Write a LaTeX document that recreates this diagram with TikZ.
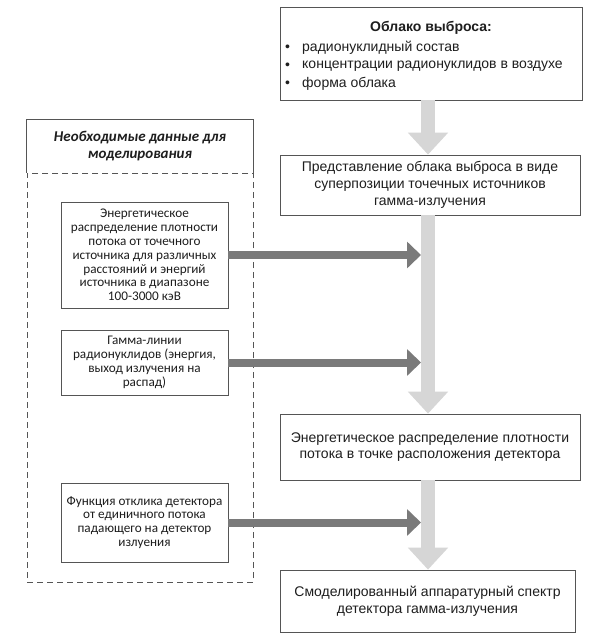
\documentclass[tikz,border=0pt]{standalone}
\usepackage{fontspec}
\setmainfont{Liberation Sans}
\newfontfamily\calib{Carlito}
\usetikzlibrary{arrows.meta}
\definecolor{lightarr}{HTML}{D6D6D6}
\definecolor{darkarr}{HTML}{7A7A7A}
\definecolor{frame}{HTML}{555555}
\definecolor{txt}{HTML}{1E1E1E}
\tikzset{
  rbox/.style={draw=frame, line width=0.8pt, fill=white, align=center, inner sep=0pt,
    text=txt, font=\fontsize{14}{16.8}\selectfont},
  lbox/.style={draw=frame, line width=0.8pt, fill=white, align=center, inner sep=0pt,
    text=txt, font=\calib\fontsize{13.2}{13.8}\selectfont, minimum width=167pt},
  lightarrow/.style={draw=lightarr, line width=14pt,
    -{Triangle[width=39pt,length=22pt,fill=lightarr]}},
  darkarrow/.style={draw=darkarr, line width=8pt,
    -{Triangle[width=26pt,length=14pt,fill=darkarr]}},
  bul/.style={anchor=west, inner sep=0pt, text=txt, font=\fontsize{14}{16.8}\selectfont},
}
\begin{document}
\begin{tikzpicture}[x=1pt,y=-1pt]
\useasboundingbox[fill=white] (0,0) rectangle (601,642);
% right column boxes
\node[rbox, minimum width=302pt, minimum height=93pt] (cloud) at (431,53.5) {};
\node[inner sep=0pt, text=txt, font=\bfseries\fontsize{14}{16.8}\selectfont] (cloudt) at (431,28) {Облако выброса:};
\node[bul] (d1) at (285,48) {\textbullet};
\node[bul] (d2) at (285,66) {\textbullet};
\node[bul] (d3) at (285,84) {\textbullet};
\node[bul] (i1) at (302,48) {радионуклидный состав};
\node[bul] (i2) at (302,66) {концентрации радионуклидов в воздухе};
\node[bul] (i3) at (302,84) {форма облака};

\node[rbox, minimum width=300pt, minimum height=60pt] (rep) at (430,185)
  {Представление облака выброса в виде\\суперпозиции точечных источников\\гамма-излучения};
\node[rbox, minimum width=300pt, minimum height=66pt] (flux) at (430,447)
  {Энергетическое распределение плотности\\потока в точке расположения детектора};
\node[rbox, minimum width=295pt, minimum height=62pt] (spec) at (427.5,601)
  {Смоделированный аппаратурный спектр\\детектора гамма-излучения};

% left container
\node[dash pattern=on 6pt off 4pt, draw=frame, line width=0.8pt, minimum width=226pt, minimum height=409pt, inner sep=0pt] (cont) at (140,377.5) {};
\node[inner sep=0pt, minimum width=226pt, minimum height=53pt, align=center, text=txt,
  font=\calib\bfseries\itshape\fontsize{15}{17}\selectfont] (title) at (140,146.5)
  {Необходимые данные для\\моделирования};
\draw[frame, line width=0.8pt] (title.south west) -- (title.north west) -- (title.north east) -- (title.south east);

\node[lbox, minimum height=106pt] (b1) at (144.5,255)
  {Энергетическое\\распределение плотности\\потока от точечного\\источника для различных\\расстояний и энергий\\источника в диапазоне\\100-3000 кэВ};
\node[lbox, minimum height=65pt] (b2) at (144.5,362.5)
  {Гамма-линии\\радионуклидов (энергия,\\выход излучения на\\распад)};
\node[lbox, minimum height=79pt] (b3) at (144.5,522.5)
  {Функция отклика детектора\\от единичного потока\\падающего на детектор\\излуения};

% arrows
\coordinate (ax) at (428,0);
\coordinate (sl) at (421,0);
\draw[lightarrow] (cloud.south -| ax) -- (rep.north -| ax);
\draw[lightarrow] (rep.south -| ax) -- (flux.north -| ax);
\draw[lightarrow] (flux.south -| ax) -- (spec.north -| ax);
\draw[darkarrow] (b1.east) -- (b1.east -| sl);
\draw[darkarrow] (b2.east) -- (b2.east -| sl);
\draw[darkarrow] (b3.east) -- (b3.east -| sl);
\end{tikzpicture}
\end{document}
